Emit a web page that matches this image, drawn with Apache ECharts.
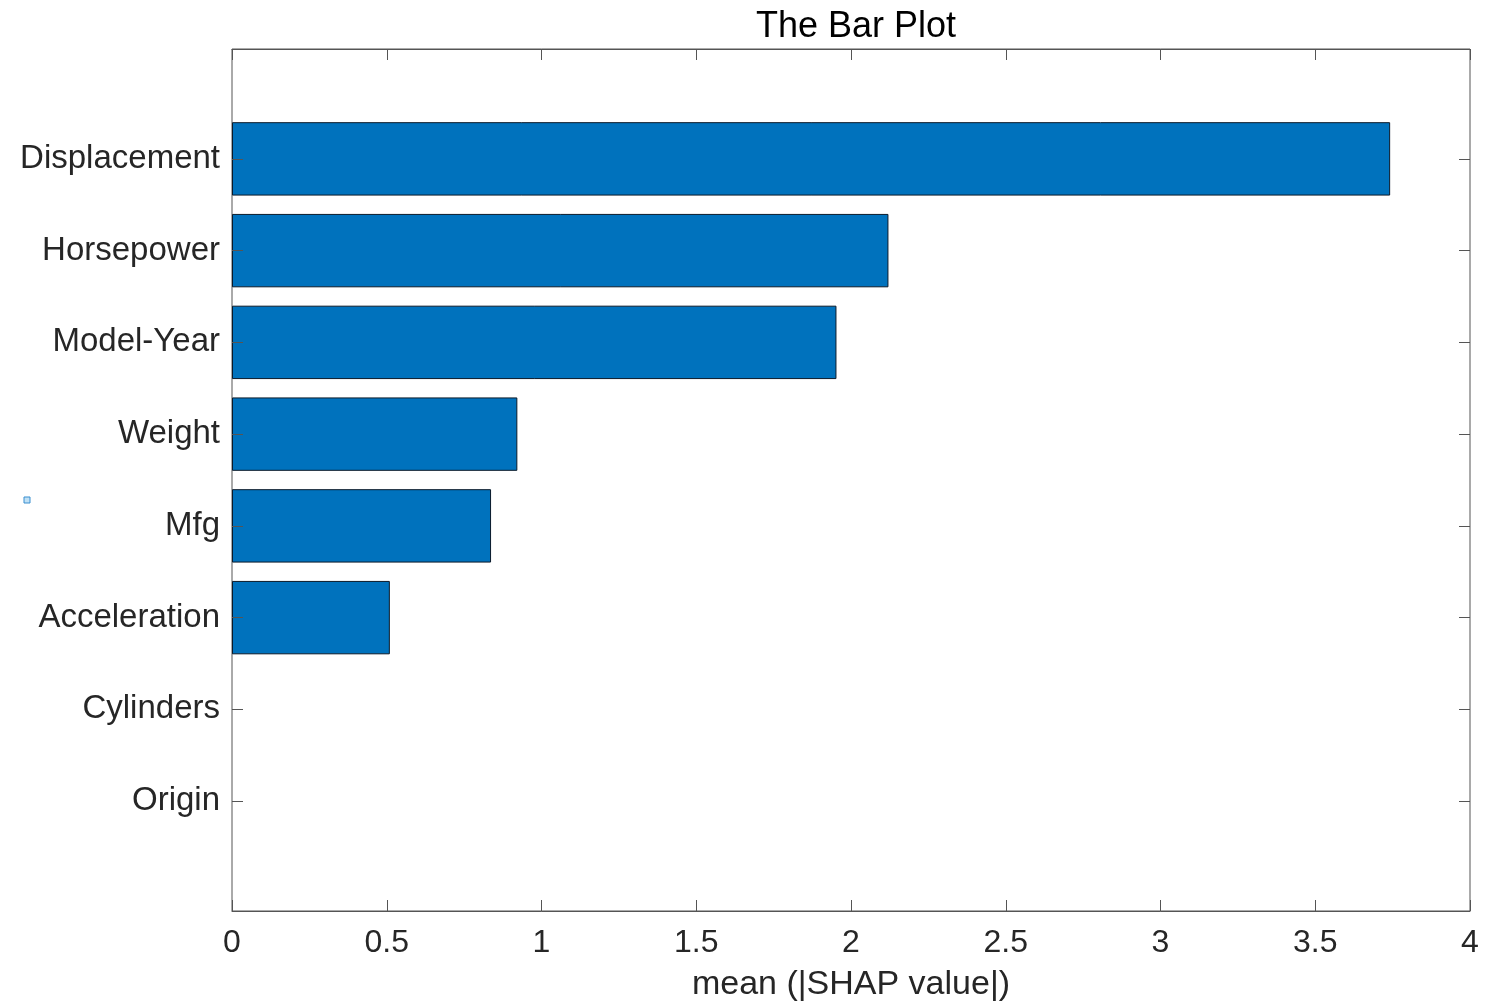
<!DOCTYPE html>
<html>
<head>
<meta charset="utf-8">
<script src="https://cdn.jsdelivr.net/npm/echarts@6/dist/echarts.min.js"></script>
<style>html,body{margin:0;padding:0;background:#fff}#chart{width:1503px;height:1005px}</style>
</head>
<body>
<div id="chart"></div>
<script>
const categories = ['Displacement','Horsepower','Model-Year','Weight','Mfg','Acceleration','Cylinders','Origin'];
const meanShap = [3.742, 2.121, 1.953, 0.922, 0.837, 0.510, 0, 0];
const xTicks = [0, 0.5, 1, 1.5, 2, 2.5, 3, 3.5, 4];

const FONT = '"Liberation Sans", Helvetica, Arial, sans-serif';
const axisCol = '#555';
const chart = echarts.init(document.getElementById('chart'));
chart.setOption({
  animation: false,
  title: {
    text: 'The Bar Plot', left: 851, top: 4, textAlign: 'center',
    textStyle: {fontFamily: FONT, fontSize: 36, fontWeight: 'normal', color: '#000'}
  },
  graphic: [{
    type: 'rect', shape: {x: 24, y: 497, width: 6, height: 6},
    style: {fill: '#bfe0f5', stroke: '#3a8fd0', lineWidth: 1}
  }],
  grid: [
    {left: 232, right: 33, top: 113, bottom: 158, containLabel: false, outerBoundsMode: 'none'},
    {left: 232, right: 33, top: 49, bottom: 94, show: true, borderColor: axisCol, borderWidth: 1,
     backgroundColor: 'transparent', containLabel: false, outerBoundsMode: 'none'}
  ],
  xAxis: [
    {gridIndex: 0, type: 'value', min: 0, max: 4, show: false},
    {gridIndex: 1, type: 'value', min: 0, max: 4, interval: 0.5, position: 'bottom',
     axisLine: {show: true, lineStyle: {color: axisCol}},
     axisTick: {show: true, inside: true, length: 11, lineStyle: {color: axisCol}},
     splitLine: {show: false},
     axisLabel: {fontFamily: FONT, fontSize: 32, color: '#262626', margin: 16,
       formatter: v => xTicks.includes(v) ? String(v) : ''},
     name: 'mean (|SHAP value|)', nameLocation: 'middle', nameGap: 57,
     nameTextStyle: {fontFamily: FONT, fontSize: 34, color: '#262626'}},
    {gridIndex: 1, type: 'value', min: 0, max: 4, interval: 0.5, position: 'top',
     axisLine: {show: true, lineStyle: {color: axisCol}},
     axisTick: {show: true, inside: true, length: 11, lineStyle: {color: axisCol}},
     axisLabel: {show: false}, splitLine: {show: false}}
  ],
  yAxis: [
    {gridIndex: 0, type: 'category', data: categories, inverse: true, position: 'left', z: 5,
     axisLine: {show: false},
     axisTick: {show: true, inside: true, alignWithLabel: true, length: 11, lineStyle: {color: axisCol}},
     axisLabel: {fontFamily: FONT, fontSize: 33, color: '#262626', margin: 12, padding: [6, 0, 0, 0]}},
    {gridIndex: 0, type: 'category', data: categories, inverse: true, position: 'right', z: 5,
     axisLine: {show: false},
     axisTick: {show: true, inside: true, alignWithLabel: true, length: 11, lineStyle: {color: axisCol}},
     axisLabel: {show: false}},
    {gridIndex: 1, type: 'value', show: false}
  ],
  series: [{
    type: 'bar', xAxisIndex: 0, yAxisIndex: 0,
    data: meanShap.map(v => v === 0 ? {value: v, itemStyle: {borderWidth: 0}} : v),
    barWidth: '80%',
    itemStyle: {color: '#0072BD', borderColor: '#0a1a2a', borderWidth: 1}
  }]
});
</script>
</body>
</html>
